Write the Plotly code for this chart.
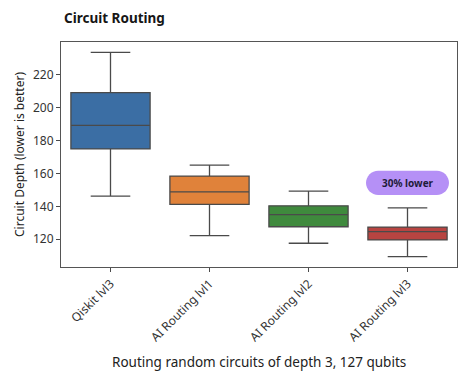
import plotly.graph_objects as go

categories = ["Qiskit lvl3", "AI Routing lvl1", "AI Routing lvl2", "AI Routing lvl3"]
lower_whisker = [146.2, 122.2, 117.6, 109.5]
q1_values = [174.8, 141.2, 127.6, 119.6]
median_values = [189.1, 148.8, 134.9, 124.6]
q3_values = [208.9, 158.3, 140.3, 127.4]
upper_whisker = [233.3, 165.0, 149.2, 139.1]
box_colors = ["#3b6ea4", "#e0823a", "#3f8a3d", "#b84441"]
y_ticks = [120, 140, 160, 180, 200, 220]
annotation_text = "30% lower"
annotation_y = 154.2

FONT = "Noto Sans, Open Sans, sans-serif"
LINE = "#4a4a4a"

fig = go.Figure()
for i, cat in enumerate(categories):
    fig.add_trace(go.Box(
        x=[cat],
        q1=[q1_values[i]], median=[median_values[i]], q3=[q3_values[i]],
        lowerfence=[lower_whisker[i]], upperfence=[upper_whisker[i]],
        fillcolor=box_colors[i],
        line=dict(color=LINE, width=1.3),
        whiskerwidth=0.5,
        width=0.8,
        boxpoints=False,
        showlegend=False,
        hoverinfo="skip",
    ))

# pill-shaped label (pixel sized, anchored in data coords)
w, h = 41.5, 12.2
r = h
a = w - r
k = 0.5523
path = (
    f"M {-a},{-h} L {a},{-h} "
    f"C {a + k*r},{-h} {a + r},{-k*r} {a + r},0 "
    f"C {a + r},{k*r} {a + k*r},{h} {a},{h} "
    f"L {-a},{h} "
    f"C {-a - k*r},{h} {-a - r},{k*r} {-a - r},0 "
    f"C {-a - r},{-k*r} {-a - k*r},{-h} {-a},{-h} Z"
)
fig.add_shape(
    type="path", path=path,
    xref="x", yref="y",
    xsizemode="pixel", ysizemode="pixel",
    xanchor=3, yanchor=annotation_y,
    fillcolor="#b590f6", line=dict(width=0), layer="above",
)
fig.add_annotation(
    x=3, y=annotation_y, xref="x", yref="y",
    text=f"<b>{annotation_text}</b>", showarrow=False,
    font=dict(family=FONT, size=10, color="#1d1b3a"),
)

fig.add_annotation(
    x=0.0026, y=1.108, xref="paper", yref="paper",
    xanchor="left", yanchor="middle",
    text="<b>Circuit Routing</b>", showarrow=False,
    font=dict(family=FONT, size=13.5, color="#161616"),
)
fig.add_annotation(
    x=0.5, y=-0.42, xref="paper", yref="paper",
    xanchor="center", yanchor="middle",
    text="Routing random circuits of depth 3, 127 qubits", showarrow=False,
    font=dict(family=FONT, size=13.5, color="#222222"),
)

# page body adds an 8px margin, so the figure is sized/shifted to compensate
fig.update_layout(
    width=466, height=366,
    margin=dict(l=53, r=17, t=34, b=107),
    paper_bgcolor="white", plot_bgcolor="white",
    font=dict(family=FONT, size=12, color="#333333"),
    boxgap=0.2,
)
fig.update_xaxes(
    range=[-0.5, 3.5], type="category",
    tickangle=-45, automargin=False,
    ticks="outside", ticklen=4, tickcolor=LINE,
    showline=True, linecolor="#555555", linewidth=1, mirror=True,
    showgrid=False, zeroline=False,
    tickfont=dict(family=FONT, size=12, color="#333333"),
)
fig.update_yaxes(
    range=[103.2, 239.6], automargin=False,
    tickvals=y_ticks,
    ticks="outside", ticklen=4, tickcolor=LINE,
    showline=True, linecolor="#555555", linewidth=1, mirror=True,
    showgrid=False, zeroline=False,
    title=dict(text="Circuit Depth (lower is better)", standoff=5,
               font=dict(family=FONT, size=12, color="#222222")),
    tickfont=dict(family=FONT, size=12, color="#333333"),
)

fig.write_html("out.html")
